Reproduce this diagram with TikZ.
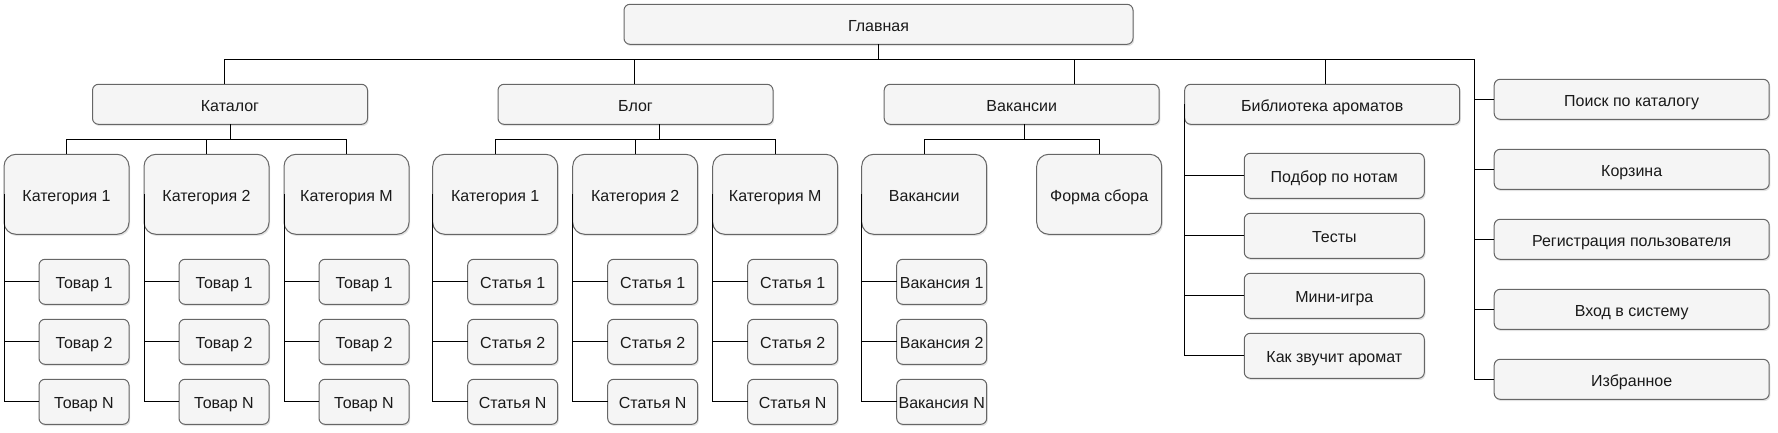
\documentclass[tikz,border=0pt]{standalone}
\usepackage{fontspec}
\setmainfont{Liberation Sans}
\usetikzlibrary{positioning,shadows}

\definecolor{boxfill}{HTML}{F5F5F5}
\definecolor{boxline}{HTML}{666666}
\definecolor{boxtext}{HTML}{1A1A1A}

\tikzset{
	box/.style={draw=boxline, fill=boxfill, line width=1pt, rounded corners=6pt,
		text=boxtext, font=\fontsize{16}{19}\selectfont, inner sep=0pt, outer sep=0pt,
		text height=14.5pt, text depth=1pt,
		drop shadow={shadow xshift=1.2pt, shadow yshift=-1.8pt, opacity=0.22}},
	top/.style={box, minimum width=509pt, minimum height=40pt},
	sect/.style={box, minimum width=275pt, minimum height=40pt},
	cat/.style={box, minimum width=125pt, minimum height=80pt, rounded corners=12pt},
	item/.style={box, minimum width=90pt, minimum height=45pt},
	lib/.style={box, minimum width=180pt, minimum height=45pt},
	link/.style={draw=black, line width=1pt}
}

\begin{document}
\begin{tikzpicture}[x=1pt, y=-1pt]
	\useasboundingbox (0,0) rectangle (1778,433);

	% Nodes {top, sections}
	\node [top]  (glav)  at (878.5,24.3)   {Главная};
	\node [sect] (kat)   at (230,104.3)    {Каталог};
	\node [sect] (blog)  at (635.5,104.3)  {Блог};
	\node [sect] (vak)   at (1021.7,104.3) {Вакансии};
	\node [sect] (bib)   at (1322.2,104.3) {Библиотека ароматов};

	% Nodes {right column}
	\node [sect] (poisk) at (1631.7,99.3)      {Поиск по каталогу};
	\node [sect] (korz)  [below=30pt of poisk] {Корзина};
	\node [sect] (reg)   [below=30pt of korz]  {Регистрация пользователя};
	\node [sect] (vhod)  [below=30pt of reg]   {Вход в систему};
	\node [sect] (izbr)  [below=30pt of vhod]  {Избранное};

	% Nodes {catalog}
	\node [cat]  (kc1)   at (66.5,194.3)       {Категория 1};
	\node [cat]  (kc2)   [right=15pt of kc1]   {Категория 2};
	\node [cat]  (kc3)   [right=15pt of kc2]   {Категория M};
	\node [item] (k1t1)  [below=25pt of kc1.south east, anchor=north east] {Товар 1};
	\node [item] (k1t2)  [below=15pt of k1t1]  {Товар 2};
	\node [item] (k1tn)  [below=15pt of k1t2]  {Товар N};
	\node [item] (k2t1)  [below=25pt of kc2.south east, anchor=north east] {Товар 1};
	\node [item] (k2t2)  [below=15pt of k2t1]  {Товар 2};
	\node [item] (k2tn)  [below=15pt of k2t2]  {Товар N};
	\node [item] (k3t1)  [below=25pt of kc3.south east, anchor=north east] {Товар 1};
	\node [item] (k3t2)  [below=15pt of k3t1]  {Товар 2};
	\node [item] (k3tn)  [below=15pt of k3t2]  {Товар N};

	% Nodes {blog}
	\node [cat]  (bc1)   at (495.2,194.3)      {Категория 1};
	\node [cat]  (bc2)   [right=15pt of bc1]   {Категория 2};
	\node [cat]  (bc3)   [right=15pt of bc2]   {Категория M};
	\node [item] (b1s1)  [below=25pt of bc1.south east, anchor=north east] {Статья 1};
	\node [item] (b1s2)  [below=15pt of b1s1]  {Статья 2};
	\node [item] (b1sn)  [below=15pt of b1s2]  {Статья N};
	\node [item] (b2s1)  [below=25pt of bc2.south east, anchor=north east] {Статья 1};
	\node [item] (b2s2)  [below=15pt of b2s1]  {Статья 2};
	\node [item] (b2sn)  [below=15pt of b2s2]  {Статья N};
	\node [item] (b3s1)  [below=25pt of bc3.south east, anchor=north east] {Статья 1};
	\node [item] (b3s2)  [below=15pt of b3s1]  {Статья 2};
	\node [item] (b3sn)  [below=15pt of b3s2]  {Статья N};

	% Nodes {vacancies}
	\node [cat]  (vs)    at (924.2,194.3)      {Вакансии};
	\node [cat]  (forma) [right=50pt of vs]    {Форма сбора};
	\node [item] (v1)    [below=25pt of vs.south east, anchor=north east] {Вакансия 1};
	\node [item] (v2)    [below=15pt of v1]    {Вакансия 2};
	\node [item] (vn)    [below=15pt of v2]    {Вакансия N};

	% Nodes {library}
	\node [lib]  (l1)    at (1334.3,175.8)     {Подбор по нотам};
	\node [lib]  (l2)    [below=15pt of l1]    {Тесты};
	\node [lib]  (l3)    [below=15pt of l2]    {Мини-игра};
	\node [lib]  (l4)    [below=15pt of l3]    {Как звучит аромат};

	% Paths {top level}
	\draw [link] (glav.south) -- ++(0,15) -| ([xshift=-5.7pt]kat.north);
	\draw [link] (glav.south) -- ++(0,15) -| ([xshift=-1.2pt]blog.north);
	\draw [link] (glav.south) -- ++(0,15) -| ([xshift=52.6pt]vak.north);
	\draw [link] (glav.south) -- ++(0,15) -| ([xshift=2.8pt]bib.north);
	\draw [link] (glav.south) -- ++(0,15) -| ([xshift=-20pt]izbr.west) -- (izbr.west);
	\draw [link] (poisk.west) -- ++(-20,0);
	\draw [link] (korz.west)  -- ++(-20,0);
	\draw [link] (reg.west)   -- ++(-20,0);
	\draw [link] (vhod.west)  -- ++(-20,0);

	% Paths {catalog}
	\draw [link] (kat.south) -- ++(0,15) -| (kc1.north);
	\draw [link] (kat.south) -- ++(0,15) -| (kc2.north);
	\draw [link] (kat.south) -- ++(0,15) -| (kc3.north);
	\draw [link] (kc1.west) |- (k1t1.west);
	\draw [link] (kc1.west) |- (k1t2.west);
	\draw [link] (kc1.west) |- (k1tn.west);
	\draw [link] (kc2.west) |- (k2t1.west);
	\draw [link] (kc2.west) |- (k2t2.west);
	\draw [link] (kc2.west) |- (k2tn.west);
	\draw [link] (kc3.west) |- (k3t1.west);
	\draw [link] (kc3.west) |- (k3t2.west);
	\draw [link] (kc3.west) |- (k3tn.west);

	% Paths {blog}
	\draw [link] ([xshift=23.5pt]blog.south) -- ++(0,15) -| (bc1.north);
	\draw [link] ([xshift=23.5pt]blog.south) -- ++(0,15) -| (bc2.north);
	\draw [link] ([xshift=23.5pt]blog.south) -- ++(0,15) -| (bc3.north);
	\draw [link] (bc1.west) |- (b1s1.west);
	\draw [link] (bc1.west) |- (b1s2.west);
	\draw [link] (bc1.west) |- (b1sn.west);
	\draw [link] (bc2.west) |- (b2s1.west);
	\draw [link] (bc2.west) |- (b2s2.west);
	\draw [link] (bc2.west) |- (b2sn.west);
	\draw [link] (bc3.west) |- (b3s1.west);
	\draw [link] (bc3.west) |- (b3s2.west);
	\draw [link] (bc3.west) |- (b3sn.west);

	% Paths {vacancies}
	\draw [link] ([xshift=2.6pt]vak.south) -- ++(0,15) -| (vs.north);
	\draw [link] ([xshift=2.6pt]vak.south) -- ++(0,15) -| (forma.north);
	\draw [link] (vs.west) |- (v1.west);
	\draw [link] (vs.west) |- (v2.west);
	\draw [link] (vs.west) |- (vn.west);

	% Paths {library}
	\draw [link] (bib.west) |- (l1.west);
	\draw [link] (bib.west) |- (l2.west);
	\draw [link] (bib.west) |- (l3.west);
	\draw [link] (bib.west) |- (l4.west);
\end{tikzpicture}
\end{document}
